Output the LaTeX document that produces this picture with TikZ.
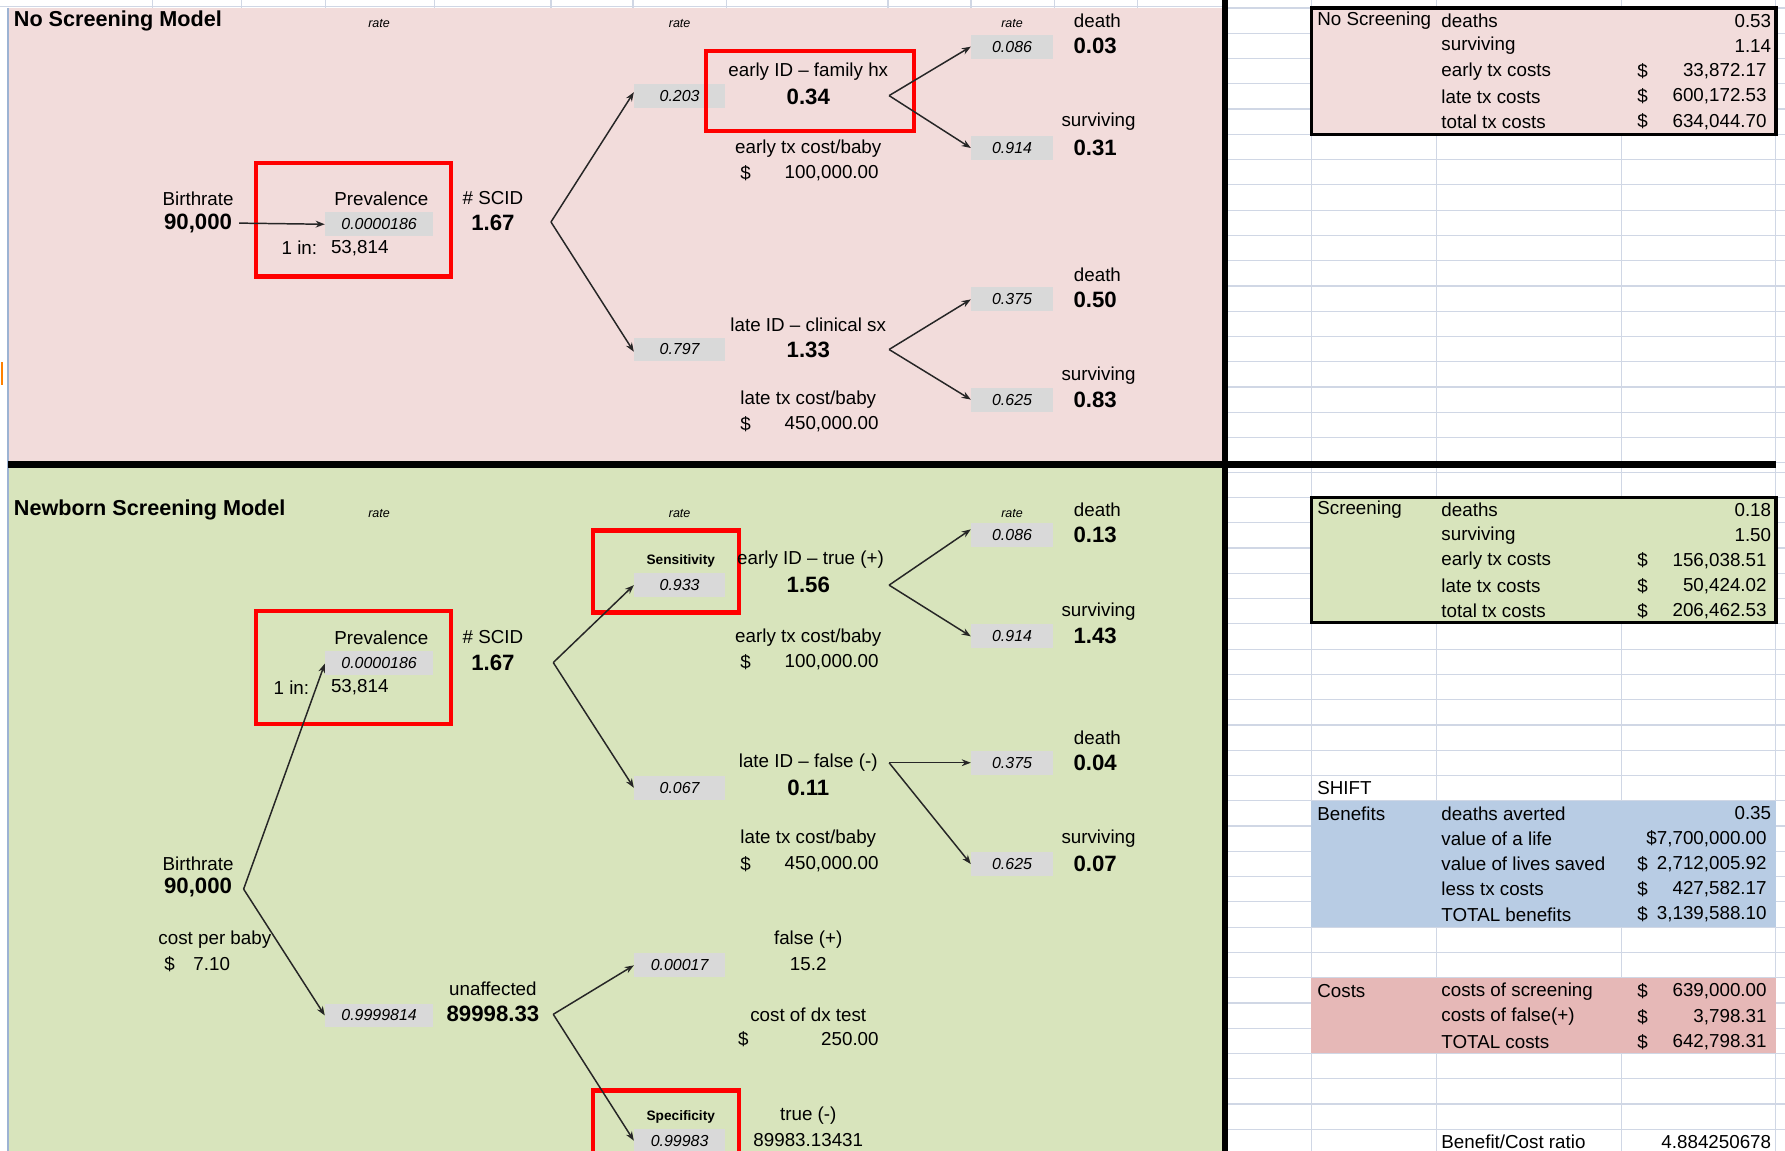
\documentclass[tikz,border=0pt]{standalone}
\usepackage{fontspec}
\setmainfont{Liberation Sans}
\usetikzlibrary{arrows.meta}
\definecolor{pinkbg}{HTML}{F2DCDB}
\definecolor{greenbg}{HTML}{D8E4BC}
\definecolor{bluebg}{HTML}{B8CCE4}
\definecolor{costbg}{HTML}{E6B8B7}
\definecolor{gridcol}{HTML}{D0D7E5}
\definecolor{gbfill}{HTML}{D9D9D9}
\definecolor{framecol}{HTML}{9DB3D3}
\tikzset{
 ttxt/.style={inner sep=0pt, font=\fontsize{16.5}{19}\selectfont},
 tbold/.style={inner sep=0pt, font=\fontsize{19.5}{22}\selectfont\bfseries},
 trate/.style={inner sep=0pt, font=\fontsize{11}{12}\selectfont\itshape},
 gbx/.style={fill=gbfill, inner sep=0pt, minimum height=21pt, font=\fontsize{14}{15}\selectfont\itshape},
 gsmall/.style={gbx, minimum width=72pt},
 gmid/.style={gbx, minimum width=80pt},
 glarge/.style={gbx, minimum width=95pt},
 redbox/.style={draw=red, line width=3.8pt},
 arr/.style={draw=black!85, line width=1.3pt, -{Stealth[length=8pt,width=6pt]}},
 ttitle/.style={inner sep=0pt, anchor=west, font=\fontsize{19}{22}\selectfont\bfseries},
 tsmallb/.style={inner sep=0pt, font=\fontsize{12}{13}\selectfont\bfseries},
 gridline/.style={draw=gridcol, line width=1pt},
 lefttxt/.style={ttxt, anchor=west},
 righttxt/.style={ttxt, anchor=east},
}
\begin{document}
\begin{tikzpicture}[x=1pt,y=-1pt]
\useasboundingbox (0,0) rectangle (1568,1011);
\clip (0,0) rectangle (1568,1011);
\fill[white] (0,0) rectangle (1568,1011);
% spreadsheet grid
\foreach \k in {0,...,18} \draw[gridline] (1079,{7+22.2*\k}) -- (1568,{7+22.2*\k});
\foreach \k in {-1,...,26} \draw[gridline] (1079,{437+22.2*\k}) -- (1568,{437+22.2*\k});
\foreach \x in {1152,1262,1424,1560} \draw[gridline] (\x,0) -- (\x,1011);
\foreach \x in {134,212,286,382,484,556,638,780,853,926,999} \draw[gridline] (\x,0) -- (\x,7);
\draw[gridline] (0,6) -- (1073,6);
% model backgrounds
\fill[pinkbg] (7,7) rectangle (1073,405);
\fill[greenbg] (7,411) rectangle (1073,1011);
\draw[framecol, line width=1.2pt] (7,7) -- (7,1011);
\draw[orange, line width=2pt] (2,318) -- (2,338);
% result tables
\fill[bluebg] (1152,703.4) rectangle (1560,814.4);
\fill[costbg] (1152,858.8) rectangle (1560,925.4);
\filldraw[fill=pinkbg, draw=black, line width=3pt] (1152,7) rectangle (1560,118);
\filldraw[fill=greenbg, draw=black, line width=3pt] (1152,437) rectangle (1560,547);
% thick separators
\fill[black] (1073,0) rectangle (1079,1011);
\fill[black] (7,405) rectangle (1560,411);

% ================= No Screening Model =================
\node[ttitle] (t1) at (12,18) {No Screening Model};
\node[trate] (r1a) at (333,21) {rate};
\node[trate] (r1b) at (597,21) {rate};
\node[trate] (r1c) at (889,21) {rate};

\node[ttxt] (bir1) at (174,175) {Birthrate};
\node[tbold] (n90a) at (174,196) {90,000};
\node[ttxt] (prev1) at (335,175) {Prevalence};
\node[glarge] (pg1) at (333,197) {0.0000186};
\node[ttxt] (in1) at (263,218) {1 in:};
\node[ttxt] (ns1) at (316,218) {53,814};
\draw[redbox] (225,143) rectangle (396,243);
\node[ttxt] (scid1) at (433,174) {\# SCID};
\node[tbold] (sc1) at (433,196) {1.67};
\coordinate (v1) at (484,195);

\node[gmid] (g203) at (597,84) {0.203};
\node[ttxt] (eid1) at (710,63) {early ID – family hx};
\node[tbold] (e34) at (710,85) {0.34};
\draw[redbox] (620,45) rectangle (803,115);
\coordinate (v2) at (781,84);
\node[ttxt] (etc1) at (710,131) {early tx cost/baby};
\node[ttxt] (ed1) at (655,152) {\$};
\node[righttxt] (ev1) at (772,152) {100,000.00};

\node[gsmall] (g086a) at (889,41) {0.086};
\node[ttxt] (d1) at (964,18) {death};
\node[tbold] (d1v) at (962,40) {0.03};
\node[gsmall] (g914a) at (889,130) {0.914};
\node[ttxt] (s1) at (965,107) {surviving};
\node[tbold] (s1v) at (962,130) {0.31};

\node[gmid] (g797) at (597,307) {0.797};
\node[ttxt] (lid1) at (710,285) {late ID – clinical sx};
\node[tbold] (l133) at (710,307) {1.33};
\coordinate (v3) at (781,307);
\node[ttxt] (ltc1) at (710,351) {late tx cost/baby};
\node[ttxt] (ld1) at (655,373) {\$};
\node[righttxt] (lv1) at (772,373) {450,000.00};

\node[gsmall] (g375a) at (889,263) {0.375};
\node[ttxt] (d2) at (964,241) {death};
\node[tbold] (d2v) at (962,263) {0.50};
\node[gsmall] (g625a) at (889,351) {0.625};
\node[ttxt] (s2) at (965,330) {surviving};
\node[tbold] (s2v) at (962,351) {0.83};

\draw[arr] ([xshift=6pt]n90a.east) -- (pg1.west);
\draw[arr] (v1) -- ([yshift=3pt]g203.west);
\draw[arr] (v1) -- ([yshift=-2pt]g797.west);
\draw[arr] (v2) -- (g086a.west);
\draw[arr] (v2) -- (g914a.west);
\draw[arr] (v3) -- (g375a.west);
\draw[arr] (v3) -- (g625a.west);

% ================= Newborn Screening Model =================
\node[ttitle] (t2) at (12,448) {Newborn Screening Model};
\node[trate] (r2a) at (333,451) {rate};
\node[trate] (r2b) at (597,451) {rate};
\node[trate] (r2c) at (889,451) {rate};

\node[ttxt] (prev2) at (335,560) {Prevalence};
\node[glarge] (pg2) at (333,582) {0.0000186};
\node[ttxt] (in2) at (256,604) {1 in:};
\node[ttxt] (ns2) at (316,604) {53,814};
\draw[redbox] (225,537) rectangle (396,636);
\node[ttxt] (scid2) at (433,560) {\# SCID};
\node[tbold] (sc2) at (433,582) {1.67};
\coordinate (v4) at (486,582);

\node[tsmallb] (sens) at (598,493) {Sensitivity};
\node[gmid] (g933) at (597,514) {0.933};
\draw[redbox] (521,466) rectangle (649,538);
\node[ttxt] (eid2) at (712,492) {early ID – true (+)};
\node[tbold] (e156) at (710,514) {1.56};
\coordinate (v5) at (781,514);
\node[ttxt] (etc2) at (710,560) {early tx cost/baby};
\node[ttxt] (ed2) at (655,582) {\$};
\node[righttxt] (ev2) at (772,582) {100,000.00};

\node[gsmall] (g086b) at (889,470) {0.086};
\node[ttxt] (d3) at (964,448) {death};
\node[tbold] (d3v) at (962,470) {0.13};
\node[gsmall] (g914b) at (889,559) {0.914};
\node[ttxt] (s3) at (965,537) {surviving};
\node[tbold] (s3v) at (962,559) {1.43};

\node[gmid] (g067) at (597,692) {0.067};
\node[ttxt] (lid2) at (710,670) {late ID – false (-)};
\node[tbold] (l011) at (710,692) {0.11};
\coordinate (v6) at (781,670);
\node[ttxt] (ltc2) at (710,737) {late tx cost/baby};
\node[ttxt] (ld2) at (655,759) {\$};
\node[righttxt] (lv2) at (772,759) {450,000.00};

\node[gsmall] (g375b) at (889,670) {0.375};
\node[ttxt] (d4) at (964,648) {death};
\node[tbold] (d4v) at (962,670) {0.04};
\node[gsmall] (g625b) at (889,759) {0.625};
\node[ttxt] (s4) at (965,737) {surviving};
\node[tbold] (s4v) at (962,759) {0.07};

\node[ttxt] (bir2) at (174,759) {Birthrate};
\node[tbold] (n90b) at (174,780) {90,000};
\coordinate (v7) at (214,781);
\node[lefttxt] (cpb) at (139,825) {cost per baby};
\node[ttxt] (cpd) at (149,847) {\$};
\node[ttxt] (cpv) at (186,847) {7.10};

\node[glarge] (g9999) at (333,892) {0.9999814};
\node[ttxt] (unaf) at (433,869) {unaffected};
\node[tbold] (unv) at (433,891) {89998.33};
\coordinate (v8) at (486,891);

\node[gmid] (g00017) at (597,848) {0.00017};
\node[ttxt] (fp) at (710,825) {false (+)};
\node[ttxt] (fpv) at (710,847) {15.2};
\node[ttxt] (cdx) at (710,891) {cost of dx test};
\node[ttxt] (cdd) at (653,913) {\$};
\node[righttxt] (cdv) at (772,913) {250.00};

\node[tsmallb] (spec) at (598,981) {Specificity};
\node[gmid] (g99983) at (597,1002) {0.99983};
\draw[redbox] (521,958) rectangle (649,1030);
\node[ttxt] (tn) at (710,980) {true (-)};
\node[ttxt] (tnv) at (710,1001) {89983.13431};

\draw[arr] (v7) -- ([yshift=-1pt]pg2.west);
\draw[arr] (v7) -- (g9999.west);
\draw[arr] (v4) -- (g933.west);
\draw[arr] (v4) -- (g067.west);
\draw[arr] (v5) -- ([yshift=5pt]g086b.west);
\draw[arr] (v5) -- (g914b.west);
\draw[arr] (v6) -- (g375b.west);
\draw[arr] (v6) -- (g625b.west);
\draw[arr] (v8) -- (g00017.west);
\draw[arr] (v8) -- (g99983.west);

% ================= Result tables =================
\begin{scope}
\clip (1152,7) rectangle (1262,29);
\node[lefttxt] (nsh) at (1157,18.1) {No Screening};
\end{scope}
\node[lefttxt] (a1) at (1266,18.1) {deaths};
\node[righttxt] (a1v) at (1556,18.1) {0.53};
\node[lefttxt] (a2) at (1266,40.3) {surviving};
\node[righttxt] (a2v) at (1556,40.3) {1.14};
\node[lefttxt] (a3) at (1266,62.5) {early tx costs};
\node[lefttxt] (a3d) at (1438,62.5) {\$};
\node[righttxt] (a3v) at (1552,62.5) {33,872.17};
\node[lefttxt] (a4) at (1266,84.7) {late tx costs};
\node[lefttxt] (a4d) at (1438,84.7) {\$};
\node[righttxt] (a4v) at (1552,84.7) {600,172.53};
\node[lefttxt] (a5) at (1266,106.9) {total tx costs};
\node[lefttxt] (a5d) at (1438,106.9) {\$};
\node[righttxt] (a5v) at (1552,106.9) {634,044.70};

\node[lefttxt] (bsh) at (1157,448.1) {Screening};
\node[lefttxt] (b1) at (1266,448.1) {deaths};
\node[righttxt] (b1v) at (1556,448.1) {0.18};
\node[lefttxt] (b2) at (1266,470.3) {surviving};
\node[righttxt] (b2v) at (1556,470.3) {1.50};
\node[lefttxt] (b3) at (1266,492.5) {early tx costs};
\node[lefttxt] (b3d) at (1438,492.5) {\$};
\node[righttxt] (b3v) at (1552,492.5) {156,038.51};
\node[lefttxt] (b4) at (1266,514.7) {late tx costs};
\node[lefttxt] (b4d) at (1438,514.7) {\$};
\node[righttxt] (b4v) at (1552,514.7) {50,424.02};
\node[lefttxt] (b5) at (1266,536.9) {total tx costs};
\node[lefttxt] (b5d) at (1438,536.9) {\$};
\node[righttxt] (b5v) at (1552,536.9) {206,462.53};

\node[lefttxt] (shift) at (1157,692.3) {SHIFT};
\node[lefttxt] (ben) at (1157,714.5) {Benefits};
\node[lefttxt] (c1) at (1266,714.5) {deaths averted};
\node[righttxt] (c1v) at (1556,714.5) {0.35};
\node[lefttxt] (c2) at (1266,736.7) {value of a life};
\node[righttxt] (c2v) at (1552,736.7) {\$7,700,000.00};
\node[lefttxt] (c3) at (1266,758.9) {value of lives saved};
\node[lefttxt] (c3d) at (1438,758.9) {\$};
\node[righttxt] (c3v) at (1552,758.9) {2,712,005.92};
\node[lefttxt] (c4) at (1266,781.1) {less tx costs};
\node[lefttxt] (c4d) at (1438,781.1) {\$};
\node[righttxt] (c4v) at (1552,781.1) {427,582.17};
\node[lefttxt] (c5) at (1266,803.3) {TOTAL benefits};
\node[lefttxt] (c5d) at (1438,803.3) {\$};
\node[righttxt] (c5v) at (1552,803.3) {3,139,588.10};

\node[lefttxt] (cst) at (1157,870.9) {Costs};
\node[lefttxt] (k1) at (1266,870.9) {costs of screening};
\node[lefttxt] (k1d) at (1438,870.9) {\$};
\node[righttxt] (k1v) at (1552,870.9) {639,000.00};
\node[lefttxt] (k2) at (1266,893.1) {costs of false(+)};
\node[lefttxt] (k2d) at (1438,893.1) {\$};
\node[righttxt] (k2v) at (1552,893.1) {3,798.31};
\node[lefttxt] (k3) at (1266,915.3) {TOTAL costs};
\node[lefttxt] (k3d) at (1438,915.3) {\$};
\node[righttxt] (k3v) at (1552,915.3) {642,798.31};

\node[lefttxt] (bcr) at (1266,1003.1) {Benefit/Cost ratio};
\node[righttxt] (bcrv) at (1556,1003.1) {4.884250678};
\end{tikzpicture}
\end{document}
